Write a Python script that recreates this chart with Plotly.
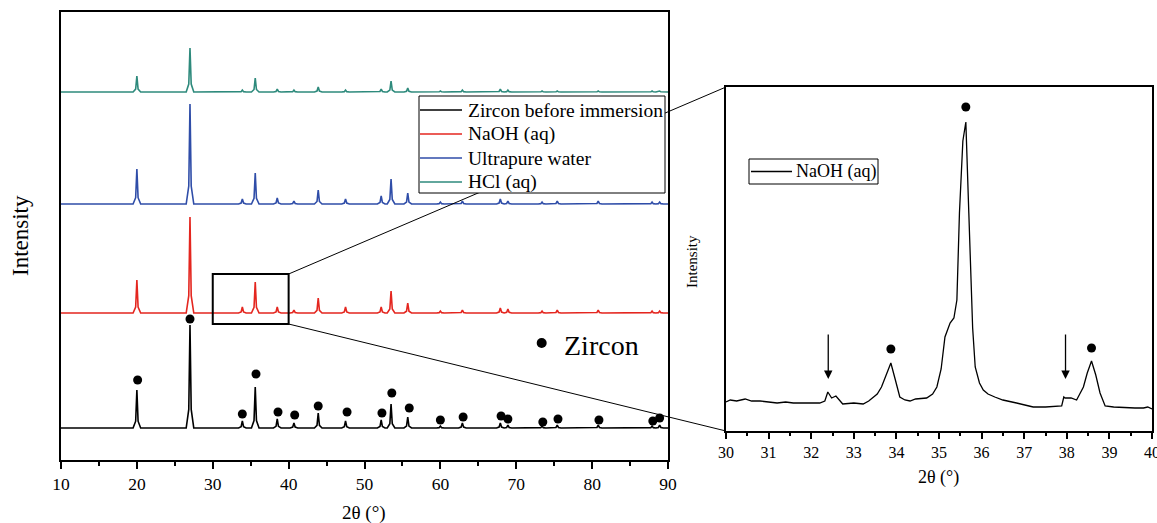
import plotly.graph_objects as go

# ---------------- data ----------------
two_theta_peaks = [20.0, 27.0, 33.9, 35.6, 38.5, 40.7, 43.9, 47.5, 52.2, 53.5,
                   55.7, 60.0, 62.9, 67.9, 68.9, 73.4, 75.4, 80.8, 87.9, 88.9]

series_names = ["Zircon before immersion", "NaOH (aq)", "Ultrapure water", "HCl (aq)"]
series_colors = ["#000000", "#E4261F", "#2F4DA8", "#2E8A7C"]
series_baselines = [32, 147, 256, 368]   # stacked offsets (a.u.)

heights_before = [38, 103, 7, 41, 9, 5, 15, 7, 8, 24, 11, 2, 5, 5, 3, 2, 3, 3, 2, 3]
heights_naoh = [33, 96, 6, 31, 6, 3, 15, 6, 6, 22, 10, 2, 3, 5, 4, 2, 3, 3, 2, 2]
heights_water = [35, 100, 5, 31, 6, 3, 14, 5, 8, 25, 11, 2, 3, 5, 3, 2, 3, 3, 2, 2]
heights_hcl = [16, 44, 2, 14, 3, 2, 5, 2, 3, 11, 4, 1, 2, 3, 2, 1, 1, 1, 1, 1]
series_heights = [heights_before, heights_naoh, heights_water, heights_hcl]

zircon_marker_x = [20.1, 27.0, 33.9, 35.7, 38.6, 40.8, 43.9, 47.7, 52.3, 53.6,
                   55.9, 60.0, 63.0, 68.0, 68.9, 73.5, 75.5, 80.9, 88.0, 88.9]
zircon_marker_y = [80, 141, 46, 86, 48, 45, 54, 48, 47, 67,
                   52, 40, 43, 44, 41, 38, 41, 40, 39, 42]

# zoomed NaOH pattern (30-40 deg)
zoom_x = [30.0, 30.1, 30.25, 30.45, 30.6, 30.8, 31.0, 31.2, 31.4, 31.58,
          31.8, 32.0, 32.2, 32.32, 32.39, 32.48, 32.58, 32.66, 32.74, 33.0,
          33.22, 33.35, 33.46, 33.55, 33.65, 33.76, 33.87, 33.97, 34.08, 34.2,
          34.32, 34.45, 34.6, 34.71, 34.85, 34.95, 35.05, 35.14, 35.26, 35.35,
          35.42, 35.48, 35.56, 35.63, 35.70, 35.75, 35.79, 35.85, 35.95, 36.04,
          36.15, 36.31, 36.5, 36.82, 37.0, 37.21, 37.5, 37.88, 37.93, 37.96,
          38.1, 38.23, 38.39, 38.48, 38.58, 38.68, 38.78, 38.9, 39.1, 39.41,
          39.6, 39.8, 39.9, 40.0]
zoom_y = [29, 31, 30, 32, 30, 30, 29, 28, 29, 28,
          28, 28, 28, 30, 39, 33, 35, 31, 27, 28,
          27, 30, 34, 37, 44, 56, 68, 52, 34, 31,
          30, 32, 33, 33, 37, 44, 62, 94, 108, 113,
          131, 218, 290, 309, 218, 150, 103, 64, 48, 41,
          37, 34, 31, 28, 26, 24, 24, 25, 34, 33,
          33, 31, 44, 58, 70, 56, 38, 25, 24, 23,
          23, 23, 24, 22]
zoom_marker_x = [33.87, 35.63, 38.58]
zoom_marker_y = [82, 324, 83]
arrow_x = [32.4, 37.97]
arrow_top, arrow_tip = 98, 52

zircon_key_x, zircon_key_y = 73.35, 117

# ---------------- layout geometry ----------------
W, H = 1157, 523
L_XDOM = [61 / W, 668 / W]
L_YDOM = [(H - 460) / H, (H - 12) / H]
R_XDOM = [726 / W, 1152 / W]
R_YDOM = [(H - 431) / H, (H - 87) / H]
L_XR, L_YR = [10, 90], [0, 448]
R_XR, R_YR = [30, 40], [0, 344]

FONT = "Liberation Serif, Times New Roman, serif"


def px(x):
    return x / W


def py(y):
    return 1 - y / H


def to_paper(xv, yv, xdom, ydom, xr, yr):
    pxv = xdom[0] + (xv - xr[0]) / (xr[1] - xr[0]) * (xdom[1] - xdom[0])
    pyv = ydom[0] + (yv - yr[0]) / (yr[1] - yr[0]) * (ydom[1] - ydom[0])
    return pxv, pyv


def peak_polyline(peaks, heights, base):
    xs, ys = [10.0], [base]
    for p, h in zip(peaks, heights):
        xs += [p - 0.5, p - 0.16, p, p + 0.16, p + 0.5]
        ys += [base, base + 0.18 * h, base + h, base + 0.18 * h, base]
    xs.append(90.0)
    ys.append(base)
    return xs, ys


fig = go.Figure()

for name, col, base, hts in zip(series_names, series_colors, series_baselines, series_heights):
    xs, ys = peak_polyline(two_theta_peaks, hts, base)
    fig.add_trace(go.Scatter(x=xs, y=ys, mode="lines", name=name, showlegend=False,
                             line=dict(color=col, width=1.6),
                             xaxis="x", yaxis="y"))

fig.add_trace(go.Scatter(x=zircon_marker_x, y=zircon_marker_y, mode="markers",
                         marker=dict(color="black", size=9), showlegend=False,
                         xaxis="x", yaxis="y"))
fig.add_trace(go.Scatter(x=[zircon_key_x], y=[zircon_key_y], mode="markers",
                         marker=dict(color="black", size=10), showlegend=False,
                         xaxis="x", yaxis="y"))

fig.add_trace(go.Scatter(x=zoom_x, y=zoom_y, mode="lines", name="NaOH (aq)",
                         showlegend=False, line=dict(color="black", width=1.3),
                         xaxis="x2", yaxis="y2"))
fig.add_trace(go.Scatter(x=zoom_marker_x, y=zoom_marker_y, mode="markers",
                         marker=dict(color="black", size=9), showlegend=False,
                         xaxis="x2", yaxis="y2"))

shapes = [dict(type="rect", xref="x", yref="y", x0=30, x1=40, y0=136, y1=186,
               line=dict(color="black", width=2))]
for ly, ry in [(186, R_YR[1]), (136, R_YR[0])]:
    x0, y0 = to_paper(40, ly, L_XDOM, L_YDOM, L_XR, L_YR)
    x1, y1 = to_paper(30, ry, R_XDOM, R_YDOM, R_XR, R_YR)
    shapes.append(dict(type="line", xref="paper", yref="paper", x0=x0, y0=y0,
                       x1=x1, y1=y1, line=dict(color="black", width=1)))

annotations = []

# ---- left legend (box, line samples, labels) ----
shapes.append(dict(type="rect", xref="paper", yref="paper", x0=px(419), x1=px(665),
                   y0=py(193), y1=py(96), fillcolor="white",
                   line=dict(color="black", width=1), layer="above"))
for i, (name, col) in enumerate(zip(series_names, series_colors)):
    yc = [110, 134, 158, 182][i]
    shapes.append(dict(type="line", xref="paper", yref="paper", x0=px(420), x1=px(462),
                       y0=py(yc), y1=py(yc), line=dict(color=col, width=1.6)))
    annotations.append(dict(x=px(466), y=py(yc), xref="paper", yref="paper", text=name,
                            showarrow=False, xanchor="left", yanchor="middle",
                            font=dict(family=FONT, size=19.5, color="black")))

# ---- right legend ----
shapes.append(dict(type="rect", xref="paper", yref="paper", x0=px(749), x1=px(878),
                   y0=py(184), y1=py(159), fillcolor="white",
                   line=dict(color="black", width=1), layer="above"))
shapes.append(dict(type="line", xref="paper", yref="paper", x0=px(751), x1=px(792),
                   y0=py(171.5), y1=py(171.5), line=dict(color="black", width=1.3)))
annotations.append(dict(x=px(794), y=py(172), xref="paper", yref="paper", text="NaOH (aq)",
                        showarrow=False, xanchor="left", yanchor="middle",
                        font=dict(family=FONT, size=18, color="black")))

for ax_ in arrow_x:
    annotations.append(dict(x=ax_, y=arrow_tip, ax=ax_, ay=arrow_top,
                            xref="x2", yref="y2", axref="x2", ayref="y2",
                            showarrow=True, arrowhead=2, arrowsize=1.3,
                            arrowwidth=1.3, arrowcolor="black", text=""))
annotations += [
    dict(x=76.0, y=zircon_key_y - 2, xref="x", yref="y", text="Zircon",
         showarrow=False, xanchor="left", yanchor="middle",
         font=dict(family=FONT, size=28, color="black")),
    dict(x=px(364), y=py(513), xref="paper", yref="paper", text="2θ (°)",
         xanchor="center", yanchor="middle",
         showarrow=False, font=dict(family=FONT, size=19, color="black")),
    dict(x=px(20), y=py(236), xref="paper", yref="paper", text="Intensity",
         xanchor="center", yanchor="middle",
         textangle=-90, showarrow=False, font=dict(family=FONT, size=23, color="black")),
    dict(x=px(938), y=py(477), xref="paper", yref="paper", text="2θ (°)",
         xanchor="center", yanchor="middle",
         showarrow=False, font=dict(family=FONT, size=18, color="black")),
    dict(x=px(692), y=py(262), xref="paper", yref="paper", text="Intensity",
         xanchor="center", yanchor="middle",
         textangle=-90, showarrow=False, font=dict(family=FONT, size=15, color="black")),
]

axis_common = dict(showgrid=False, zeroline=False, showline=True, linecolor="black",
                   linewidth=2, mirror=True, automargin=False)

fig.update_layout(
    width=W, height=H, margin=dict(l=0, r=0, t=0, b=0, autoexpand=False),
    paper_bgcolor="white", plot_bgcolor="white", showlegend=False,
    xaxis=dict(domain=L_XDOM, range=L_XR, anchor="y", tickmode="array",
               tickvals=[10, 20, 30, 40, 50, 60, 70, 80, 90],
               ticks="outside", ticklen=7, tickwidth=2, tickcolor="black",
               minor=dict(tickvals=[15, 25, 35, 45, 55, 65, 75, 85], ticks="outside",
                          ticklen=4, tickwidth=2, tickcolor="black"),
               ticklabeloverflow="allow",
               tickfont=dict(family=FONT, size=17.5, color="black"), **axis_common),
    yaxis=dict(domain=L_YDOM, range=L_YR, anchor="x", showticklabels=False,
               ticks="", **axis_common),
    xaxis2=dict(domain=R_XDOM, range=R_XR, anchor="y2", tickmode="array",
                tickvals=list(range(30, 41)),
                ticks="outside", ticklen=6, tickwidth=2, tickcolor="black",
                minor=dict(tickvals=[30.5 + i for i in range(10)], ticks="outside",
                           ticklen=3, tickwidth=2, tickcolor="black"),
                ticklabeloverflow="allow",
                tickfont=dict(family=FONT, size=16, color="black"), **axis_common),
    yaxis2=dict(domain=R_YDOM, range=R_YR, anchor="x2", showticklabels=False,
                ticks="", **axis_common),
    shapes=shapes, annotations=annotations,
)

fig.write_html("out.html")
